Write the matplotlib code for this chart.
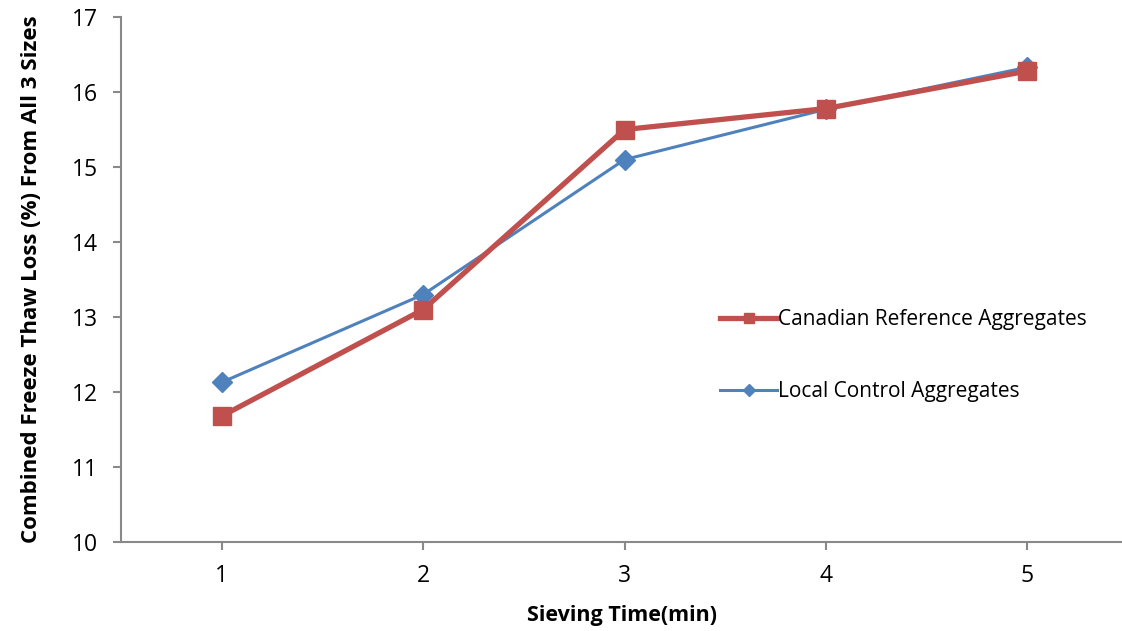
import matplotlib
matplotlib.use("Agg")
import matplotlib.pyplot as plt

plt.rcParams['font.family'] = ['Open Sans', 'DejaVu Sans']

# data
sieving_time = [1, 2, 3, 4, 5]
canadian_ref = [11.68, 13.10, 15.50, 15.78, 16.28]
local_ctrl = [12.13, 13.30, 15.10, 15.77, 16.33]

red = '#C0504D'
blue = '#4F81BD'
grey = '#898989'

fig = plt.figure(figsize=(11.22, 6.31), dpi=100)
ax = fig.add_axes([0.108, 0.141, 0.892, 0.832])

ax.plot(sieving_time, local_ctrl, color=blue, lw=2.2, marker='D', ms=10,
        label='Local Control Aggregates')
ax.plot(sieving_time, canadian_ref, color=red, lw=3.8, marker='s', ms=13,
        label='Canadian Reference Aggregates')

ax.set_xlim(0.5, 5.47)
ax.set_ylim(10, 17)
ax.set_xticks(sieving_time)
ax.set_yticks(range(10, 18))

for s in ['top', 'right']:
    ax.spines[s].set_visible(False)
for s in ['left', 'bottom']:
    ax.spines[s].set_color(grey)
    ax.spines[s].set_linewidth(1.5)
ax.tick_params(colors=grey, labelcolor='black', labelsize=16.5, width=1.5, length=6)
ax.tick_params(axis='x', pad=10)
ax.tick_params(axis='y', pad=11)

ax.set_xlabel('Sieving Time(min)', fontsize=15.5, fontweight='bold', labelpad=12)
ax.set_ylabel('Combined Freeze Thaw Loss (%) From All 3 Sizes', fontsize=16,
              fontweight='bold', labelpad=21)

handles, labels = ax.get_legend_handles_labels()
leg = ax.legend(handles[::-1], labels[::-1], loc='center left',
                bbox_to_anchor=(0.58, 0.355), frameon=False, fontsize=15,
                labelspacing=2.45, handlelength=2.7, handletextpad=0.05, markerscale=0.6)

fig.savefig('out.png', dpi=100)
